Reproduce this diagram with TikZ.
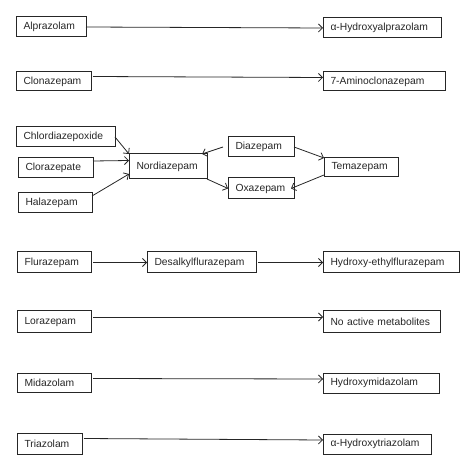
\documentclass[tikz,border=0pt]{standalone}
\usepackage{fontspec}
\setmainfont{Liberation Sans}
\usetikzlibrary{arrows.meta}

\begin{document}
\begin{tikzpicture}[x=1pt, y=-1pt,
  every node/.style={anchor=north west, inner xsep=7.5pt, inner ysep=0pt, outer sep=0pt, text=black!85, font=\fontsize{10.3}{12}\selectfont},
  box/.style={draw=black!85, line width=1pt, align=left, text width=#1},
  conv/.style={draw=black!85, line width=0.8pt, -{Straight Barb[length=4pt,width=8pt]}}]
\useasboundingbox (0,0) rectangle (474,470);

\node[box=55pt, minimum height=20pt] (alpra) at (16,17) {Alprazolam};
\node[box=103pt, minimum height=20pt] (hydalpra) at (323,18) {α-Hydroxyalprazolam};

\node[box=60pt, minimum height=19pt] (clona) at (16,72) {Clonazepam};
\node[box=107pt, minimum height=19pt] (amino) at (323,72) {7-Aminoclonazepam};

\node[box=84pt, minimum height=20pt] (chlordi) at (16,127) {Chlordiazepoxide};
\node[box=60pt, minimum height=20pt] (cloraz) at (18,158) {Clorazepate};
\node[box=59pt, minimum height=20pt] (halaz) at (18,193) {Halazepam};
\node[box=63pt, minimum height=25pt] (nordi) at (129,154) {Nordiazepam};
\node[box=51pt, minimum height=20pt] (diaz) at (228,137) {Diazepam};
\node[box=59pt, minimum height=19pt] (temaz) at (324,158) {Temazepam};
\node[box=51pt, minimum height=21pt] (oxaz) at (228,178) {Oxazepam};

\node[box=59pt, minimum height=21pt] (fluraz) at (17,252) {Flurazepam};
\node[box=94pt, minimum height=21pt] (desalk) at (147,252) {Desalkylflurazepam};
\node[box=121pt, minimum height=21pt] (hydflur) at (323,252) {Hydroxy-ethylflurazepam};

\node[box=59pt, minimum height=22pt] (loraz) at (17,311) {Lorazepam};
\node[box=102pt, minimum height=22pt] (noact) at (323,311) {No active metabolites};

\node[box=59pt, minimum height=19pt] (midaz) at (17,373) {Midazolam};
\node[box=101pt, minimum height=20pt] (hydmid) at (323,373) {Hydroxymidazolam};

\node[box=50pt, minimum height=21pt] (triaz) at (17,433) {Triazolam};
\node[box=93pt, minimum height=20pt] (hydtri) at (323,434) {α-Hydroxytriazolam};

\draw[conv] (alpra.east) -- (hydalpra.west);
\draw[conv] ([xshift=2pt,yshift=5pt]clona.east) -- ([yshift=4pt]amino.west);

\draw[conv] (chlordi.east) -- (nordi.north west);
\draw[conv] ([yshift=7pt]cloraz.east) -- ([yshift=6pt]nordi.west);
\draw[conv] ([yshift=-3pt]halaz.north east) -- ([yshift=5pt]nordi.south west);
\draw[conv] ([xshift=-5pt]diaz.west) -- ([xshift=-5pt]nordi.north east);
\draw[conv] (diaz.east) -- (temaz.north west);
\draw[conv] ([yshift=2pt]temaz.south west) -- ([xshift=-3pt]oxaz.east);
\draw[conv] (nordi.south east) -- (oxaz.west);

\draw[conv] ([xshift=2pt]fluraz.east) -- (desalk.west);
\draw[conv] ([xshift=2pt]desalk.east) -- (hydflur.west);

\draw[conv] ([xshift=2pt,yshift=5pt]loraz.east) -- ([yshift=5pt]noact.west);
\draw[conv] ([xshift=2pt,yshift=4pt]midaz.east) -- ([yshift=4pt]hydmid.west);
\draw[conv] ([xshift=2pt,yshift=5pt]triaz.east) -- ([yshift=4pt]hydtri.west);
\end{tikzpicture}
\end{document}
